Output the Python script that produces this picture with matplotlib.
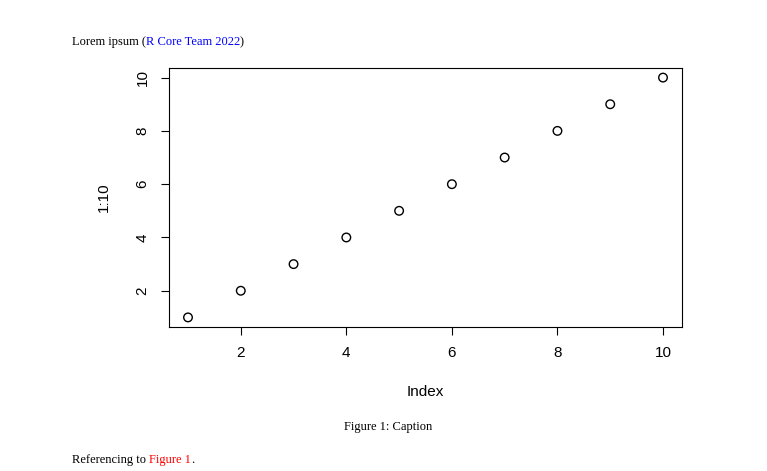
import matplotlib
matplotlib.use('Agg')
import matplotlib.pyplot as plt
import numpy as np

index = np.arange(1, 11)
values = np.arange(1, 11)
x_ticks = [2, 4, 6, 8, 10]
y_ticks = [2, 4, 6, 8, 10]

W, H = 767, 471
plt.rcParams['font.family'] = ['Liberation Sans', 'DejaVu Sans']
fig = plt.figure(figsize=(W / 100, H / 100), dpi=100)
ax = fig.add_axes([169 / W, 1 - 327 / H, (682 - 169) / W, (327 - 68) / H])

ax.scatter(index, values, s=38, facecolors='none', edgecolors='black', linewidths=1)
ax.set_xlim(0.64, 10.36)
ax.set_ylim(0.64, 10.36)
ax.set_xticks(x_ticks)
ax.set_yticks(y_ticks)
ax.tick_params(labelsize=11, length=6, pad=8)
for lab in ax.get_yticklabels():
    lab.set_rotation(90)
    lab.set_va('center')
ax.set_xlabel('Index', fontsize=11, labelpad=18)
ax.set_ylabel('1:10', fontsize=11, labelpad=18)
for s in ax.spines.values():
    s.set_linewidth(0.8)

serif = 'Liberation Serif'
renderer = fig.canvas.get_renderer()


def text_run(x, y, pieces):
    # place pieces one after another on a line, in pixels
    for s, c in pieces:
        t = fig.text(x / W, 1 - y / H, s, fontsize=9, family=serif, va='center', color=c)
        x += t.get_window_extent(renderer).width


text_run(72, 42, [('Lorem ipsum (', 'black'), ('R Core Team 2022', 'blue'), (')', 'black')])
fig.text(388 / W, 1 - 427 / H, 'Figure 1: Caption', fontsize=9, family=serif, va='center', ha='center')
text_run(72, 460, [('Referencing to ', 'black'), ('Figure 1', 'red'), ('.', 'black')])

fig.savefig('out.png', dpi=100)
